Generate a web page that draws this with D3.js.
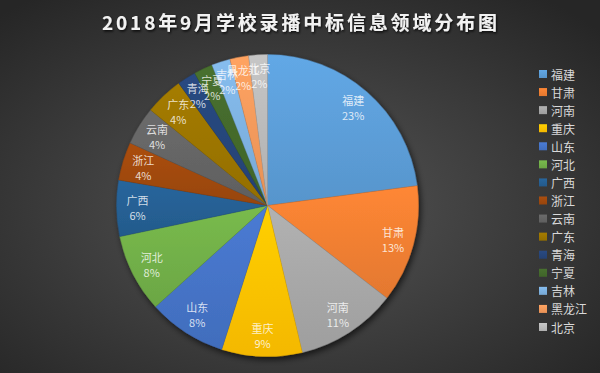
<!DOCTYPE html>
<html><head><meta charset="utf-8">
<script src="https://cdn.jsdelivr.net/npm/d3@7"></script>
<style>
html,body{margin:0;padding:0;background:#333;}
svg{display:block;font-family:"Noto Sans CJK SC","Noto Sans",sans-serif;}
</style></head>
<body><svg id="chart" width="600" height="373"></svg>
<script>
const titleText = "2018年9月学校录播中标信息领域分布图";
const categories = ["福建","甘肃","河南","重庆","山东","河北","广西","浙江","云南","广东","青海","宁夏","吉林","黑龙江","北京"];
const values = [22.9,12.6,10.8,8.6,8.4,8.4,6.0,4.1,4.1,4.1,2.0,2.0,2.0,2.0,2.0];
const colors = ["#5B9BD5","#ED7D31","#A5A5A5","#FFC000","#4472C4","#70AD47","#255E91","#9E480E","#636363","#997300","#264478","#43682B","#7CAFDD","#F1975A","#B7B7B7"];

const W = 600, H = 373;
const svg = d3.select("#chart");
const defs = svg.append("defs");

const bg = defs.append("radialGradient").attr("id","bg").attr("cx","48%").attr("cy","55%").attr("r","70%");
bg.append("stop").attr("offset","0%").attr("stop-color","#565656");
bg.append("stop").attr("offset","100%").attr("stop-color","#262626");
svg.append("rect").attr("width",W).attr("height",H).attr("fill","url(#bg)");

const sh = defs.append("filter").attr("id","shadow").attr("x","-20%").attr("y","-20%").attr("width","140%").attr("height","140%");
sh.append("feDropShadow").attr("dx",2).attr("dy",3).attr("stdDeviation",3).attr("flood-color","#000").attr("flood-opacity",0.65);

const tsh = defs.append("filter").attr("id","tshadow");
tsh.append("feDropShadow").attr("dx",1).attr("dy",1.5).attr("stdDeviation",1).attr("flood-color","#000").attr("flood-opacity",0.8);

colors.forEach((c,i)=>{
  const g = defs.append("linearGradient").attr("id","g"+i).attr("x1",0).attr("y1",0).attr("x2",0).attr("y2",1);
  g.append("stop").attr("offset","0%").attr("stop-color", d3.color(c).brighter(0.22).formatHex());
  g.append("stop").attr("offset","100%").attr("stop-color", d3.color(c).darker(0.12).formatHex());
});

// title
svg.append("text")
  .attr("x",102).attr("y",30)
  .attr("textLength",395).attr("lengthAdjust","spacing")
  .attr("font-size",19).attr("font-weight","bold")
  .attr("fill","#f2f2f2").attr("filter","url(#tshadow)")
  .text(titleText);

// pie
const cx = 267.5, cy = 205.5, R = 151;
const data = categories.map((c,i)=>({name:c, value:values[i], i}));
const total = d3.sum(values);
const pie = d3.pie().value(d=>d.value).sort(null);
const arcs = pie(data);
const arc = d3.arc().innerRadius(0).outerRadius(R);
const labelArc = d3.arc().innerRadius(130).outerRadius(130);

const g = svg.append("g").attr("transform",`translate(${cx},${cy})`);
const pg = g.append("g").attr("filter","url(#shadow)");
pg.selectAll("path").data(arcs).join("path")
  .attr("d",arc)
  .attr("fill",d=>`url(#g${d.data.i})`)
  .attr("stroke",d=>d3.color(colors[d.data.i]).darker(0.4).formatHex())
  .attr("stroke-width",0.4);

const fmt = d3.format(".0%");
const lg = g.append("g");
arcs.forEach(d=>{
  const [x,y] = labelArc.centroid(d);
  const t = lg.append("text").attr("text-anchor","middle").attr("font-size",11)
    .attr("fill","#ffffff").attr("fill-opacity",0.8);
  t.append("tspan").attr("x",x).attr("y",y-7.5).attr("dominant-baseline","central").text(d.data.name);
  t.append("tspan").attr("x",x).attr("y",y+7.5).attr("dominant-baseline","central").text(fmt(d.data.value/total));
});

// legend
const ly = d3.scalePoint().domain(categories).range([74,327]);
const leg = svg.append("g");
categories.forEach((c,i)=>{
  leg.append("rect").attr("x",539).attr("y",ly(c)-4).attr("width",8).attr("height",8)
    .attr("fill",`url(#g${i})`);
  leg.append("text").attr("x",551).attr("y",ly(c)).attr("dominant-baseline","central")
    .attr("font-size",12).attr("fill","#d9d9d9").text(c);
});
</script></body></html>
